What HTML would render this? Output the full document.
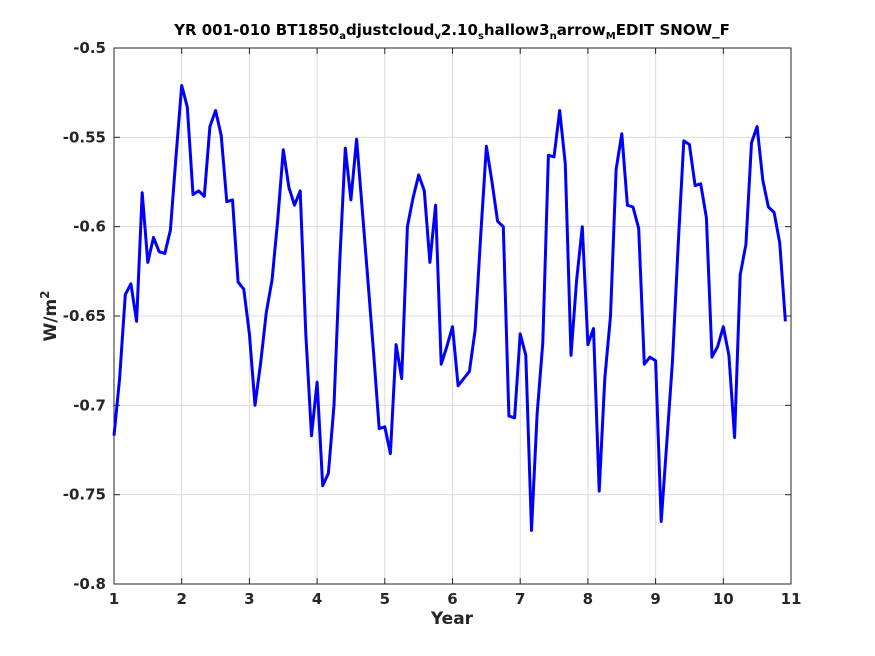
<!DOCTYPE html>
<html><head><meta charset="utf-8"><style>
body{margin:0;background:#fff;}
svg{display:block;font-family:"DejaVu Sans","Liberation Sans",sans-serif;}
</style></head><body>
<svg id="chart" width="875" height="656" viewBox="0 0 875 656" xmlns="http://www.w3.org/2000/svg">
<rect width="875" height="656" fill="#fff"/>
<g id="grid"></g>
<g id="axes"></g>
<path id="series" fill="none" stroke="#0000ff" stroke-width="3" stroke-linejoin="round"/>
<text x="452" y="35" text-anchor="middle" font-size="15" font-weight="bold" fill="#000">YR 001-010 BT1850<tspan font-size="10" dy="4">a</tspan><tspan dy="-4">djustcloud</tspan><tspan font-size="10" dy="4">v</tspan><tspan dy="-4">2.10</tspan><tspan font-size="10" dy="4">s</tspan><tspan dy="-4">hallow3</tspan><tspan font-size="10" dy="4">n</tspan><tspan dy="-4">arrow</tspan><tspan font-size="10" dy="4">M</tspan><tspan dy="-4">EDIT SNOW_F</tspan></text>
<text x="452" y="624" text-anchor="middle" font-size="17" font-weight="bold" fill="#262626">Year</text>
<text transform="translate(56,316) rotate(-90)" text-anchor="middle" font-size="17" font-weight="bold" fill="#262626">W/m<tspan font-size="12" dy="-7">2</tspan></text>
</svg>
<script>
const xTicks=[1,2,3,4,5,6,7,8,9,10,11];
const yTicks=[-0.5,-0.55,-0.6,-0.65,-0.7,-0.75,-0.8];
const yTickLabels=["-0.5","-0.55","-0.6","-0.65","-0.7","-0.75","-0.8"];
const values=[
-0.717,-0.685,-0.638,-0.632,-0.653,-0.581,-0.620,-0.606,-0.614,-0.615,-0.602,-0.560,
-0.521,-0.533,-0.582,-0.580,-0.583,-0.544,-0.535,-0.549,-0.586,-0.585,-0.631,-0.635,
-0.660,-0.700,-0.676,-0.648,-0.630,-0.597,-0.557,-0.578,-0.588,-0.580,-0.660,-0.717,
-0.687,-0.745,-0.738,-0.700,-0.620,-0.556,-0.585,-0.551,-0.590,-0.630,-0.670,-0.713,
-0.712,-0.727,-0.666,-0.685,-0.600,-0.584,-0.571,-0.580,-0.620,-0.588,-0.677,-0.667,
-0.656,-0.689,-0.685,-0.681,-0.658,-0.605,-0.555,-0.575,-0.597,-0.600,-0.706,-0.707,
-0.660,-0.672,-0.770,-0.705,-0.665,-0.560,-0.561,-0.535,-0.565,-0.672,-0.630,-0.600,
-0.666,-0.657,-0.748,-0.685,-0.650,-0.568,-0.548,-0.588,-0.589,-0.601,-0.677,-0.673,
-0.675,-0.765,-0.720,-0.675,-0.610,-0.552,-0.554,-0.577,-0.576,-0.595,-0.673,-0.667,
-0.656,-0.672,-0.718,-0.627,-0.610,-0.553,-0.544,-0.574,-0.589,-0.592,-0.609,-0.653];
const L=114,R=791,T=48,B=584;
const xs=v=>L+(v-1)/10*(R-L);
const ys=v=>T+(-0.5-v)/0.3*(B-T);
const NS="http://www.w3.org/2000/svg";
const grid=document.getElementById('grid'),axes=document.getElementById('axes');
function mk(tag,attrs,parent){const e=document.createElementNS(NS,tag);for(const k in attrs)e.setAttribute(k,attrs[k]);parent.appendChild(e);return e;}
xTicks.forEach(t=>{
 const g=mk('line',{x1:xs(t),x2:xs(t),y1:T,y2:B,stroke:'#dcdcdc','stroke-width':1},grid);
 
 
 const k=mk('line',{x1:xs(t),x2:xs(t),y1:B,y2:B-6,stroke:'#262626'},axes);
 
 
 const k2=mk('line',{x1:xs(t),x2:xs(t),y1:T,y2:T+6,stroke:'#262626'},axes);
 
 
 const tx=mk('text',{x:xs(t),y:B+20,'text-anchor':'middle','font-size':15,'font-weight':'bold',fill:'#262626'},axes);
 tx.textContent=t;
 
 
});
yTicks.forEach((t,i)=>{
 const g=mk('line',{x1:L,x2:R,y1:ys(t),y2:ys(t),stroke:'#dcdcdc','stroke-width':1},grid);
 
 
 const k=mk('line',{x1:L,x2:L+6,y1:ys(t),y2:ys(t),stroke:'#262626'},axes);
 
 
 const k2=mk('line',{x1:R,x2:R-6,y1:ys(t),y2:ys(t),stroke:'#262626'},axes);
 
 
 const tx=mk('text',{x:L-8,y:ys(t)+5,'text-anchor':'end','font-size':15,'font-weight':'bold',fill:'#262626'},axes);
 tx.textContent=yTickLabels[i];
 
 
});
const box=mk('rect',{x:L,y:T,width:R-L,height:B-T,fill:'none',stroke:'#262626','stroke-width':1},axes);


document.getElementById('series').setAttribute('d',values.map((v,i)=>(i?'L':'M')+xs(1+i/12).toFixed(1)+','+ys(v).toFixed(1)).join(''));
</script>
</body></html>
